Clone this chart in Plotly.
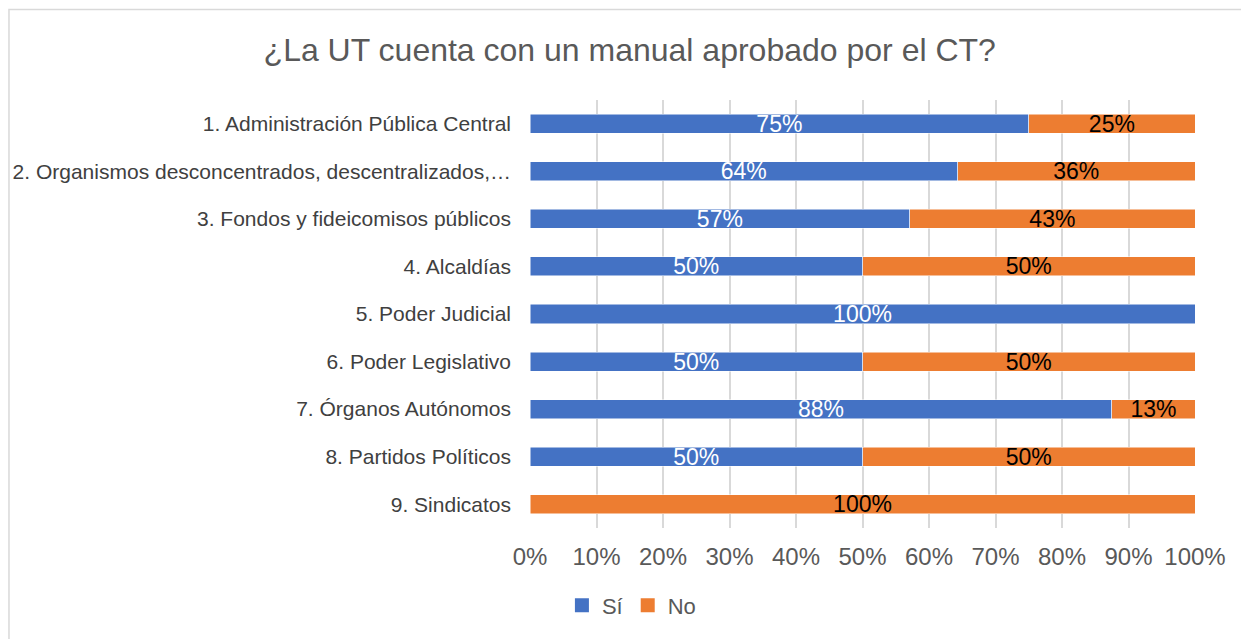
import plotly.graph_objects as go

# categories (top to bottom) and percentages per answer
categorias = [
    "1. Administración Pública Central",
    "2. Organismos desconcentrados, descentralizados,…",
    "3. Fondos y fideicomisos públicos",
    "4. Alcaldías",
    "5. Poder Judicial",
    "6. Poder Legislativo",
    "7. Órganos Autónomos",
    "8. Partidos Políticos",
    "9. Sindicatos",
]
si = [75, 64.3, 57.1, 50, 100, 50, 87.5, 50, 0]
no = [25, 35.7, 42.9, 50, 0, 50, 12.5, 50, 100]
ticks = [0, 10, 20, 30, 40, 50, 60, 70, 80, 90, 100]

FONT = "Liberation Sans, Arial, sans-serif"
AZUL = "#4472C4"
NARANJA = "#ED7D31"


def etiquetas(vals):
    # round half up like Excel, hide labels of empty segments
    return [f"{int(v + 0.5)}%" if v > 0 else "" for v in vals]


fig = go.Figure()
fig.add_trace(go.Bar(
    y=categorias, x=si, name="Sí", orientation="h", showlegend=False,
    marker=dict(color=AZUL, line=dict(color="white", width=0.5)),
    text=etiquetas(si), textposition="inside", insidetextanchor="middle",
    constraintext="none",
    textfont=dict(color="white", size=23, family=FONT),
))
fig.add_trace(go.Bar(
    y=categorias, x=no, name="No", orientation="h", showlegend=False,
    marker=dict(color=NARANJA, line=dict(color="white", width=0.5)),
    text=etiquetas(no), textposition="inside", insidetextanchor="middle",
    constraintext="none",
    textfont=dict(color="black", size=23, family=FONT),
))

# legend entries with bigger square swatches
for nombre, color in [("Sí", AZUL), ("No", NARANJA)]:
    fig.add_trace(go.Scatter(
        x=[None], y=[None], mode="markers", name=nombre,
        marker=dict(symbol="square", size=14, color=color),
    ))

fig.update_layout(
    barmode="stack",
    bargap=0.6,
    width=1241, height=631,
    margin=dict(l=522, r=54, t=92, b=111),
    paper_bgcolor="white", plot_bgcolor="white",
    font=dict(family=FONT, color="#595959"),
    title=dict(text="¿La UT cuenta con un manual aprobado por el CT?",
               font=dict(size=32, color="#595959", family=FONT),
               x=0.501, xanchor="center", y=0.933, yanchor="middle"),
    xaxis=dict(range=[0, 100], tickvals=ticks,
               ticktext=[f"{t}%" for t in ticks],
               showgrid=True, gridcolor="#d9d9d9", gridwidth=1.5,
               zeroline=False, showline=False, ticklabelstandoff=12,
               automargin=False,
               tickfont=dict(size=24, color="#595959")),
    yaxis=dict(autorange="reversed", showgrid=False, showline=False,
               ticks="", ticklabelstandoff=18, automargin=False,
               tickfont=dict(size=21, color="#404040")),
    legend=dict(orientation="h", x=0.048, xanchor="left",
                y=-0.181, yanchor="middle", traceorder="normal",
                font=dict(size=22, color="#595959"),
                itemwidth=30, tracegroupgap=0),
    showlegend=True,
)

# light outer frame of the chart area
fig.add_shape(type="rect", xref="paper", yref="paper",
              x0=-0.7835, x1=1.1, y0=-0.3, y1=1.2117,
              line=dict(color="#d9d9d9", width=1.5), layer="below")

fig.write_html("out.html")
